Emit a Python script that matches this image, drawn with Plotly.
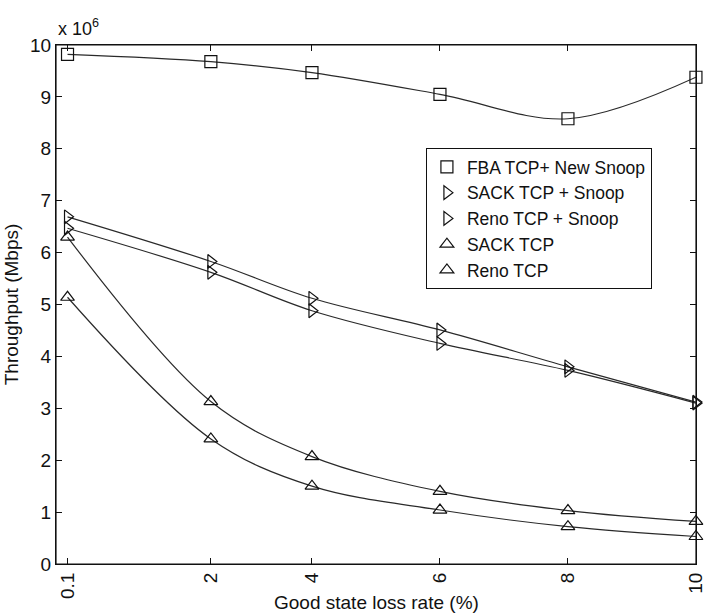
import plotly.graph_objects as go

# Good state loss rate (%) tick labels and where each sits on the axis
x_labels = ["0.1", "2", "4", "6", "8", "10"]
x_plot = [0.18, 2.42, 4.0, 6.0, 8.0, 10.0]

# Throughput values in units of 10^6
fba_new_snoop = [9.82, 9.68, 9.47, 9.05, 8.58, 9.38]
sack_snoop = [6.69, 5.83, 5.12, 4.51, 3.80, 3.12]
reno_snoop = [6.47, 5.62, 4.88, 4.25, 3.73, 3.10]
sack_tcp = [6.30, 3.13, 2.07, 1.40, 1.03, 0.82]
reno_tcp = [5.14, 2.41, 1.50, 1.04, 0.72, 0.53]

y_ticks = list(range(0, 11))

series = [
    ("FBA TCP+ New Snoop", fba_new_snoop, "square-open"),
    ("SACK TCP + Snoop", sack_snoop, "triangle-right-open"),
    ("Reno TCP + Snoop", reno_snoop, "triangle-right-open"),
    ("SACK TCP", sack_tcp, "triangle-up-open"),
    ("Reno TCP", reno_tcp, "triangle-up-open"),
]

FONT = "Liberation Sans, Arial, sans-serif"
INK = "#111111"
fig = go.Figure()
for name, ys, sym in series:
    fig.add_trace(go.Scatter(
        x=x_plot, y=ys, mode="lines", showlegend=False, cliponaxis=False,
        line=dict(color="#2a2a2a", width=1.2, shape="spline", smoothing=1.0),
        hoverinfo="skip"))
for name, ys, sym in series:
    fig.add_trace(go.Scatter(
        x=x_plot, y=ys, mode="markers", name=name, cliponaxis=False,
        marker=dict(symbol=sym, size=12, color=INK,
                    line=dict(color=INK, width=1.2))))

fig.update_layout(
    width=705, height=614,
    margin=dict(l=56, r=9, t=45, b=50),
    paper_bgcolor="white", plot_bgcolor="white",
    font=dict(family=FONT, size=19, color=INK),
    legend=dict(x=0.578, y=0.8015, xanchor="left", yanchor="top",
                bgcolor="white", bordercolor=INK, borderwidth=1,
                font=dict(size=17.5), tracegroupgap=0, itemwidth=30),
    shapes=[dict(type="rect", xref="paper", yref="paper", x0=0, x1=1,
                 y0=0, y1=1, line=dict(color=INK, width=1.2), layer="above")],
    annotations=[
        dict(text="x 10<sup>6</sup>", xref="paper", yref="paper",
             x=0.0, y=1.0, xanchor="left", yanchor="bottom",
             showarrow=False, font=dict(size=18), yshift=4),
        dict(text="Good state loss rate (%)", xref="paper", yref="paper",
             x=0.5, y=-0.0751, xanchor="center", yanchor="middle",
             showarrow=False, font=dict(size=19)),
    ],
)
fig.update_xaxes(
    range=[0, 10.001], tickvals=x_plot, ticktext=x_labels, tickangle=-90,
    ticks="inside", ticklen=6, tickcolor=INK, mirror="ticks",
    showline=True, linecolor=INK, linewidth=1.2, showgrid=False,
    zeroline=False, ticklabeloverflow="allow", automargin=False,
)
fig.update_yaxes(
    range=[0, 10.001], tickvals=y_ticks, ticks="inside", ticklen=6,
    tickcolor=INK, mirror="ticks", showline=True, linecolor=INK,
    linewidth=1.2, showgrid=False, zeroline=False, automargin=False,
    title=dict(text="Throughput (Mbps)", standoff=6, font=dict(size=19)),
)
fig.write_html("out.html", config={"displayModeBar": False},
               post_script="document.body.style.margin='0';document.body.style.overflow='hidden';")
